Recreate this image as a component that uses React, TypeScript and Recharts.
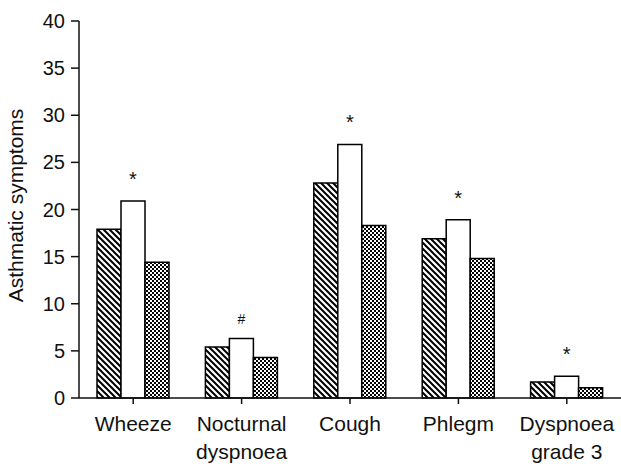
import React from 'react';
import { BarChart, Bar, XAxis, YAxis, LabelList } from 'recharts';

const categories = ['Wheeze', 'Nocturnal\ndyspnoea', 'Cough', 'Phlegm', 'Dyspnoea\ngrade 3'];
const groupA = [17.9, 5.4, 22.8, 16.9, 1.7];
const groupB = [20.9, 6.3, 26.9, 18.9, 2.3];
const groupC = [14.4, 4.3, 18.3, 14.8, 1.1];
const marks = ['*', '#', '*', '*', '*'];
const yTicks = [0, 5, 10, 15, 20, 25, 30, 35, 40];

const data = categories.map((name, i) => ({
  name,
  a: groupA[i],
  b: groupB[i],
  c: groupC[i],
  mark: marks[i],
}));

const FONT = '"Liberation Sans", Arial, sans-serif';

const CategoryTick = ({ x, y, payload }: any) => {
  const lines = String(payload.value).split('\n');
  return (
    <text x={x} y={y + 25} textAnchor="middle" fontFamily={FONT} fontSize={21} fill="#111">
      {lines.map((l, i) => (
        <tspan key={i} x={x} dy={i === 0 ? 0 : 28}>{l}</tspan>
      ))}
    </text>
  );
};

const MarkLabel = ({ x, y, width, value }: any) => (
  <text x={x + width / 2} y={y - 15} textAnchor="middle" fontFamily={FONT} fontSize={value === '#' ? 14 : 20} fill="#111">
    {value}
  </text>
);

const App: React.FC = () => {
  return (
    <div style={{ position: 'absolute', left: 0, top: 0, background: '#fff' }}>
      <BarChart
        width={621}
        height={470}
        data={data}
        margin={{ top: 21, right: 0, left: 0, bottom: 0 }}
        barGap={0}
        barSize={24}
      >
        <defs>
          <pattern id="diag" width="6" height="6" patternUnits="userSpaceOnUse">
            <rect width="6" height="6" fill="#fff" />
            <path d="M-1,-1 L7,7 M-4,2 L2,8 M2,-4 L8,2" stroke="#000" strokeWidth="2" />
          </pattern>
          <pattern id="check" width="4" height="4" patternUnits="userSpaceOnUse">
            <rect width="4" height="4" fill="#fff" />
            <rect x="0" y="0" width="2" height="2" fill="#000" />
            <rect x="2" y="2" width="2" height="2" fill="#000" />
          </pattern>
        </defs>
        <XAxis
          dataKey="name"
          height={72}
          axisLine={{ stroke: '#111', strokeWidth: 1.5 }}
          tickLine={{ stroke: '#111', strokeWidth: 1.5 }}
          tickSize={6}
          interval={0}
          tick={<CategoryTick />}
        />
        <YAxis
          width={79}
          domain={[0, 40]}
          ticks={yTicks}
          interval={0}
          axisLine={{ stroke: '#111', strokeWidth: 1.5 }}
          tickLine={{ stroke: '#111', strokeWidth: 1.5 }}
          tickSize={8}
          tickMargin={6}
          tick={{ fontFamily: FONT, fontSize: 20, fill: '#111' }}
          label={{
            value: 'Asthmatic symptoms',
            angle: -90,
            position: 'insideLeft',
            offset: 16,
            dy: -4,
            style: { fontFamily: FONT, fontSize: 21, fill: '#111', textAnchor: 'middle' },
          }}
        />
        <Bar dataKey="a" fill="url(#diag)" stroke="#000" strokeWidth={1.5} isAnimationActive={false} />
        <Bar dataKey="b" fill="#fff" stroke="#000" strokeWidth={1.5} isAnimationActive={false}>
          <LabelList dataKey="mark" content={<MarkLabel />} />
        </Bar>
        <Bar dataKey="c" fill="url(#check)" stroke="#000" strokeWidth={1.5} isAnimationActive={false} />
      </BarChart>
    </div>
  );
};

export default App;
